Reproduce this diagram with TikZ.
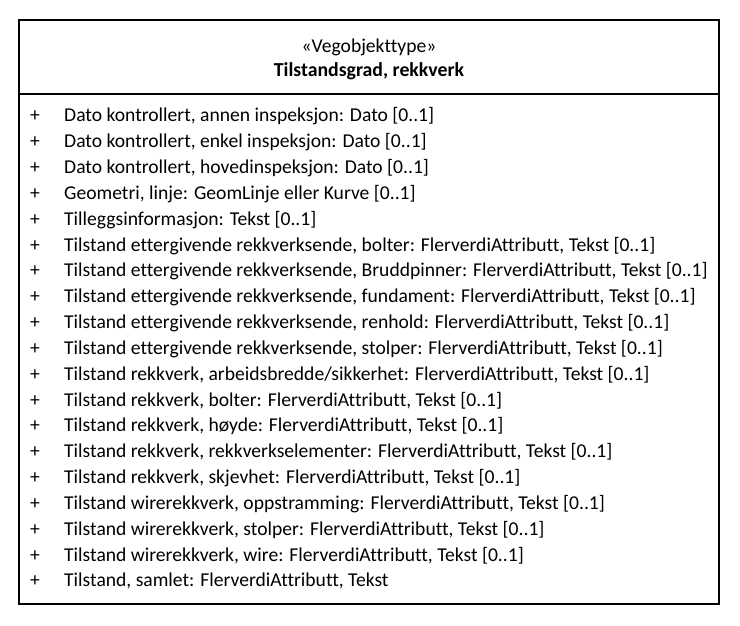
\documentclass[tikz,border=0pt]{standalone}
\usepackage{fontspec}
\setmainfont{Carlito}[Ligatures={NoCommon}]
\begin{document}
\begin{tikzpicture}[x=1pt,y=1pt,
  classbox/.style={draw=black,line width=1.7pt},
  stereo/.style={font=\fontsize{19.6}{23}\selectfont,anchor=base},
  title/.style={font=\fontsize{19.8}{23}\selectfont\bfseries,anchor=base},
  vis/.style={font=\fontsize{19.6}{23}\selectfont,anchor=base},
  attr/.style={font=\fontsize{19.6}{23}\selectfont,anchor=base west,inner sep=0pt}]
\useasboundingbox (0,0) rectangle (740,626);
% class outline and header separator
\draw[classbox] (19,22) rectangle (719,606);
\coordinate (sepL) at (19,532);
\coordinate (sepR) at (719,532);
\draw[classbox] (sepL) -- (sepR);
% header
\node[stereo] (st) at (369,573) {«Vegobjekttype»};
\node[title] (ti) at (369,549) {Tilstandsgrad, rekkverk};
% attributes
\foreach [count=\i] \t in {
  {Dato kontrollert, annen inspeksjon: Dato [0..1]},
  {Dato kontrollert, enkel inspeksjon: Dato [0..1]},
  {Dato kontrollert, hovedinspeksjon: Dato [0..1]},
  {Geometri, linje: GeomLinje eller Kurve [0..1]},
  {Tilleggsinformasjon: Tekst [0..1]},
  {Tilstand ettergivende rekkverksende, bolter: FlerverdiAttributt, Tekst [0..1]},
  {Tilstand ettergivende rekkverksende, Bruddpinner: FlerverdiAttributt, Tekst [0..1]},
  {Tilstand ettergivende rekkverksende, fundament: FlerverdiAttributt, Tekst [0..1]},
  {Tilstand ettergivende rekkverksende, renhold: FlerverdiAttributt, Tekst [0..1]},
  {Tilstand ettergivende rekkverksende, stolper: FlerverdiAttributt, Tekst [0..1]},
  {Tilstand rekkverk, arbeidsbredde/sikkerhet: FlerverdiAttributt, Tekst [0..1]},
  {Tilstand rekkverk, bolter: FlerverdiAttributt, Tekst [0..1]},
  {Tilstand rekkverk, høyde: FlerverdiAttributt, Tekst [0..1]},
  {Tilstand rekkverk, rekkverkselementer: FlerverdiAttributt, Tekst [0..1]},
  {Tilstand rekkverk, skjevhet: FlerverdiAttributt, Tekst [0..1]},
  {Tilstand wirerekkverk, oppstramming: FlerverdiAttributt, Tekst [0..1]},
  {Tilstand wirerekkverk, stolper: FlerverdiAttributt, Tekst [0..1]},
  {Tilstand wirerekkverk, wire: FlerverdiAttributt, Tekst [0..1]},
  {Tilstand, samlet: FlerverdiAttributt, Tekst}} {
  \pgfmathsetmacro{\yb}{626-122-25.83*(\i-1)}
  \node[vis] (v\i) at (35,\yb) {+};
  \node[attr] (a\i) at (64,\yb) {\t};
}
\end{tikzpicture}
\end{document}
